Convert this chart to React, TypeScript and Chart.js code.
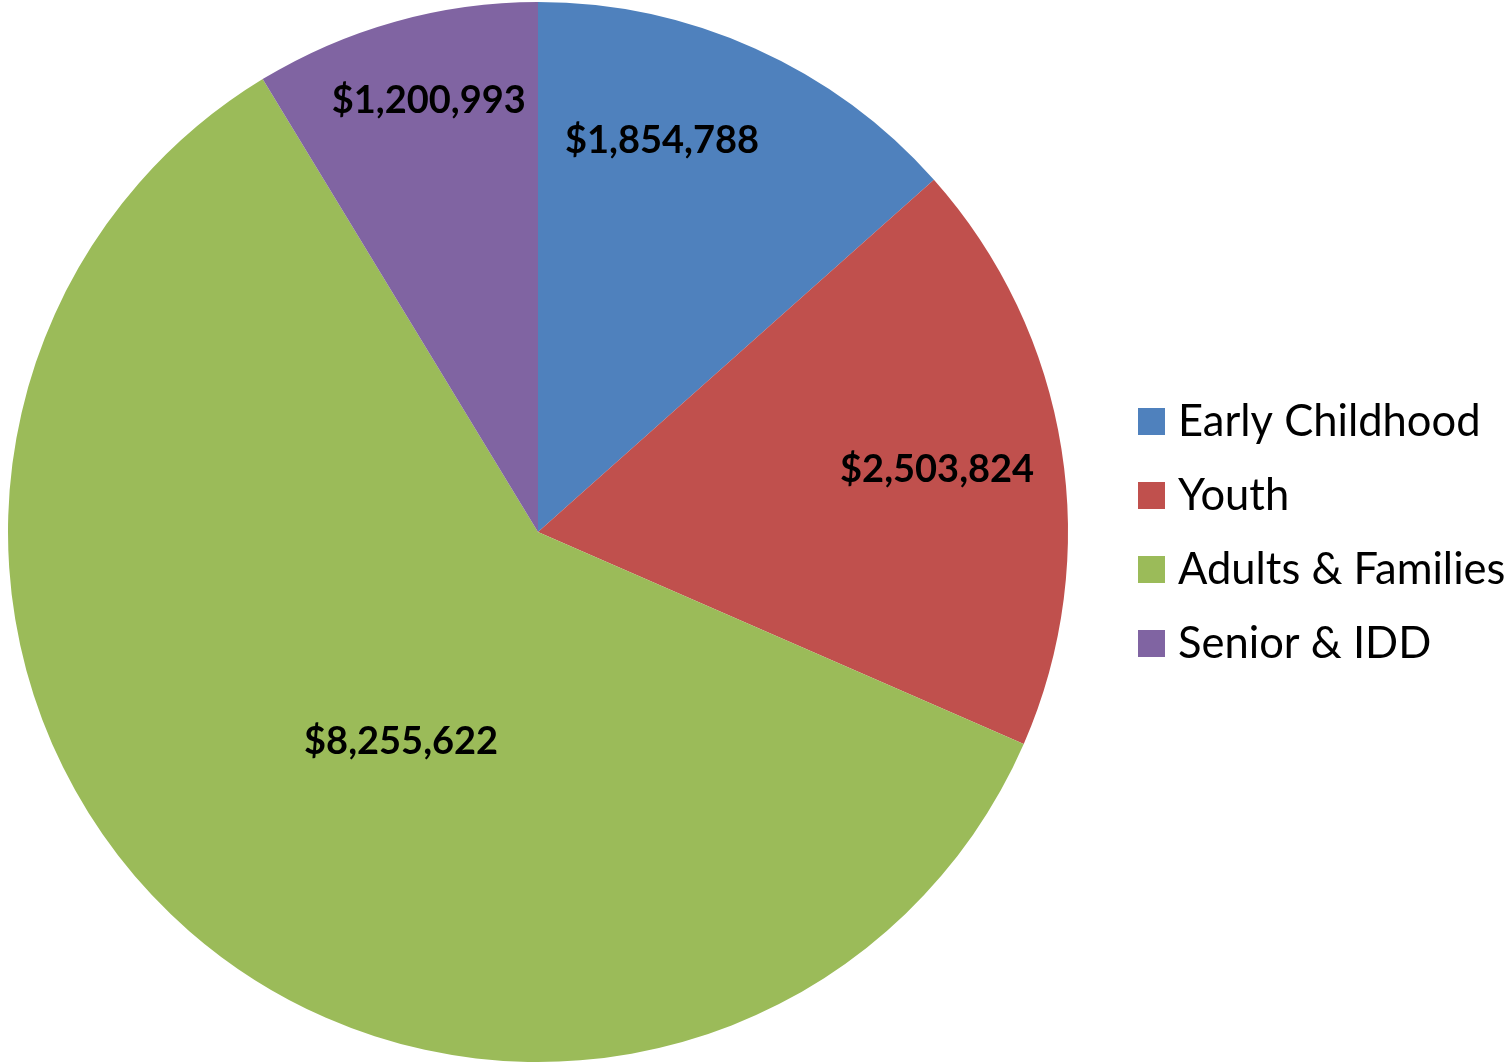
import React, { useEffect, useRef } from "react";
import { Chart, registerables } from "chart.js";

Chart.register(...registerables);

const categories = ["Early Childhood", "Youth", "Adults & Families", "Senior & IDD"];
const values = [1854788, 2503824, 8255622, 1200993];
const valueLabels = ["$1,854,788", "$2,503,824", "$8,255,622", "$1,200,993"];
const colors = ["#4F81BD", "#C0504D", "#9BBB59", "#8064A2"];

// label placement: angle (deg clockwise from top) and fraction of radius
const labelPlacement = [
  { angle: 17.6, frac: 0.774 },
  { angle: 81.2, frac: 0.762 },
  { angle: 213.1, frac: 0.473 },
  { angle: 345.8, frac: 0.84 },
];

const FONT = "Lato, 'Open Sans', sans-serif";

const overlayPlugin = {
  id: "overlay",
  beforeDraw(chart: any) {
    const ctx = chart.ctx;
    ctx.save();
    ctx.fillStyle = "#ffffff";
    ctx.fillRect(0, 0, chart.width, chart.height);
    ctx.restore();
  },
  afterDraw(chart: any) {
    const ctx = chart.ctx;
    const meta = chart.getDatasetMeta(0);
    const arc0 = meta.data[0];
    const cx = arc0.x;
    const cy = arc0.y;
    const r = arc0.outerRadius;
    ctx.save();
    ctx.fillStyle = "#000000";
    ctx.font = `bold 38px ${FONT}`;
    ctx.textAlign = "center";
    ctx.textBaseline = "middle";
    valueLabels.forEach((t, i) => {
      const p = labelPlacement[i];
      const a = (p.angle * Math.PI) / 180;
      const x = cx + Math.sin(a) * r * p.frac;
      const y = cy - Math.cos(a) * r * p.frac;
      ctx.fillText(t, x, y);
    });
    // legend
    ctx.textAlign = "left";
    ctx.textBaseline = "alphabetic";
    ctx.font = `43.5px ${FONT}`;
    categories.forEach((c, i) => {
      const base = 436 + i * 74;
      ctx.fillStyle = colors[i];
      ctx.fillRect(1138, base - 28, 27, 27);
      ctx.fillStyle = "#000000";
      ctx.fillText(c, 1178, base);
    });
    ctx.restore();
  },
};

export default function App() {
  const ref = useRef<HTMLCanvasElement | null>(null);
  useEffect(() => {
    document.body.style.margin = "0";
    const chart = new Chart(ref.current as HTMLCanvasElement, {
      type: "pie",
      data: {
        labels: categories,
        datasets: [
          {
            data: values,
            backgroundColor: colors,
            borderWidth: 0,
          },
        ],
      },
      options: {
        responsive: false,
        animation: false,
        layout: { padding: { left: 8, right: 444, top: 2, bottom: 0 } },
        plugins: { legend: { display: false }, tooltip: { enabled: false } },
      },
      plugins: [overlayPlugin],
    });
    return () => chart.destroy();
  }, []);
  return (
    <div style={{ position: "absolute", left: 0, top: 0, width: 1512, height: 1062 }}>
      <canvas ref={ref} width={1512} height={1062} />
    </div>
  );
}
